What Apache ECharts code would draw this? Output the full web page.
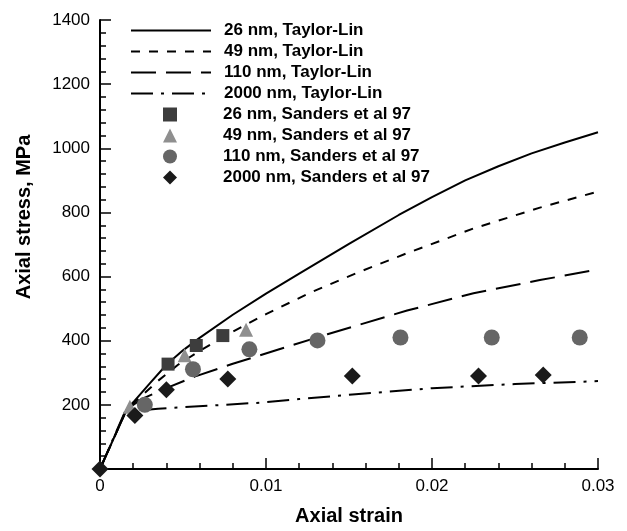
<!DOCTYPE html>
<html>
<head>
<meta charset="utf-8">
<script src="https://cdn.jsdelivr.net/npm/echarts@6/dist/echarts.min.js"></script>
<style>html,body{margin:0;padding:0;background:#fff;}#c{width:627px;height:531px;}</style>
</head>
<body>
<div id="c"></div>
<script>
// ---- data ----
var lineNames = ["26 nm, Taylor-Lin", "49 nm, Taylor-Lin", "110 nm, Taylor-Lin", "2000 nm, Taylor-Lin"];
var dotNames = ["26 nm, Sanders et al 97", "49 nm, Sanders et al 97", "110 nm, Sanders et al 97", "2000 nm, Sanders et al 97"];
var tl26 = [[0,0],[0.0016,185],[0.002,208],[0.003,267],[0.004,325],[0.005,370],[0.006,409],[0.008,481],[0.010,547],[0.012,609],[0.015,702],[0.018,792],[0.020,848],[0.022,900],[0.024,944],[0.026,984],[0.028,1018],[0.03,1050]];
var tl49 = [[0,0],[0.0016,185],[0.0025,228],[0.0035,275],[0.0047,325],[0.006,368],[0.0077,420],[0.01,483],[0.0128,553],[0.0155,612],[0.0185,673],[0.0225,750],[0.0265,815],[0.03,865]];
var tl110 = [[0,0],[0.0016,185],[0.0025,218],[0.004,252],[0.0057,288],[0.008,328],[0.0107,372],[0.0137,420],[0.0155,448],[0.0185,494],[0.0225,548],[0.0265,589],[0.03,622]];
var tl2000 = [[0,0],[0.0015,178],[0.0035,188],[0.0097,207],[0.012,218],[0.0154,233],[0.02,252],[0.025,265],[0.03,274]];
var sd26 = [[0.0041,327],[0.0058,385],[0.0074,416]];
var sd49 = [[0.0018,194],[0.0051,355],[0.0088,434]];
var sd110 = [[0.0027,200],[0.0056,311],[0.009,373],[0.0131,401],[0.0181,410],[0.0236,410],[0.0289,410]];
var sd2000 = [[0,0],[0.0021,167],[0.004,247],[0.0077,281],[0.0152,290],[0.0228,290],[0.0267,293]];

var chart = echarts.init(document.getElementById('c'), null, {renderer:'canvas'});
var FONT = 'Liberation Sans, Arial, Helvetica, sans-serif';
function lineSeries(name, data, type) {
  return {name:name, type:'line', data:data, symbol:'none', smooth:false, clip:false,
    lineStyle:{color:'#000', width:2, type:type}, itemStyle:{color:'#000', opacity:0}, z:2};
}
function scat(name, data, symbol, size, color) {
  return {name:name, type:'scatter', data:data, symbol:symbol, symbolSize:size, clip:false,
    symbolKeepAspect:true, itemStyle:{color:color, opacity:1}, z:3};
}
var legendText = {fontFamily:FONT, fontSize:17, fontWeight:'bold', color:'#000'};
chart.setOption({
  animation:false,
  backgroundColor:'#fff',
  grid:{left:100, right:29, top:20, bottom:57, containLabel:false},
  legend:[{
    orient:'vertical', left:130, top:22, padding:0, itemWidth:80, itemHeight:14, itemGap:4,
    data:lineNames.map(function(n){ return {name:n, itemStyle:{opacity:0}}; }),
    selectedMode:false,
    textStyle:Object.assign({padding:[0,0,0,8]}, legendText)
  },{
    orient:'vertical', left:163, top:106, padding:0, itemWidth:14, itemHeight:14, itemGap:4,
    data:dotNames, selectedMode:false,
    textStyle:Object.assign({padding:[0,0,0,41]}, legendText)
  }],
  xAxis:{
    type:'value', min:0, max:0.03, interval:0.01,
    name:'Axial strain', nameLocation:'middle', nameGap:37,
    nameTextStyle:{fontFamily:FONT, fontSize:20, fontWeight:'bold', color:'#000'},
    axisLine:{show:true, onZero:false, lineStyle:{color:'#000', width:2}},
    axisTick:{show:true, inside:true, length:11, lineStyle:{color:'#000', width:1.5}},
    minorTick:{show:true, splitNumber:5, length:6, lineStyle:{color:'#000', width:1.5}},
    splitLine:{show:false},
    axisLabel:{fontFamily:FONT, fontSize:17, color:'#000', margin:9}
  },
  yAxis:{
    type:'value', min:0, max:1400, interval:200,
    axisLine:{show:true, onZero:false, lineStyle:{color:'#000', width:2}},
    axisTick:{show:true, inside:true, length:11, lineStyle:{color:'#000', width:1.5}},
    minorTick:{show:true, splitNumber:5, length:6, lineStyle:{color:'#000', width:1.5}},
    splitLine:{show:false},
    axisLabel:{fontFamily:FONT, fontSize:17, color:'#000', margin:10, showMinLabel:false,
      formatter:function(v){ return String(v); }}
  },
  graphic:[{
    type:'text', x:24, y:217, rotation:Math.PI/2,
    style:{text:'Axial stress, MPa', font:'bold 20px '+FONT, fill:'#000', align:'center', verticalAlign:'middle'}
  }],
  series:[
    lineSeries(lineNames[0], tl26, 'solid'),
    lineSeries(lineNames[1], tl49, [9,9]),
    lineSeries(lineNames[2], tl110, [25,10]),
    lineSeries(lineNames[3], tl2000, [22,8,3,8]),
    scat(dotNames[0], sd26, 'rect', 13, '#3d3d3d'),
    scat(dotNames[1], sd49, 'triangle', 14, '#8f8f8f'),
    scat(dotNames[2], sd110, 'circle', 16, '#666666'),
    scat(dotNames[3], sd2000, 'diamond', 17, '#1a1a1a')
  ]
});
</script>
</body>
</html>
